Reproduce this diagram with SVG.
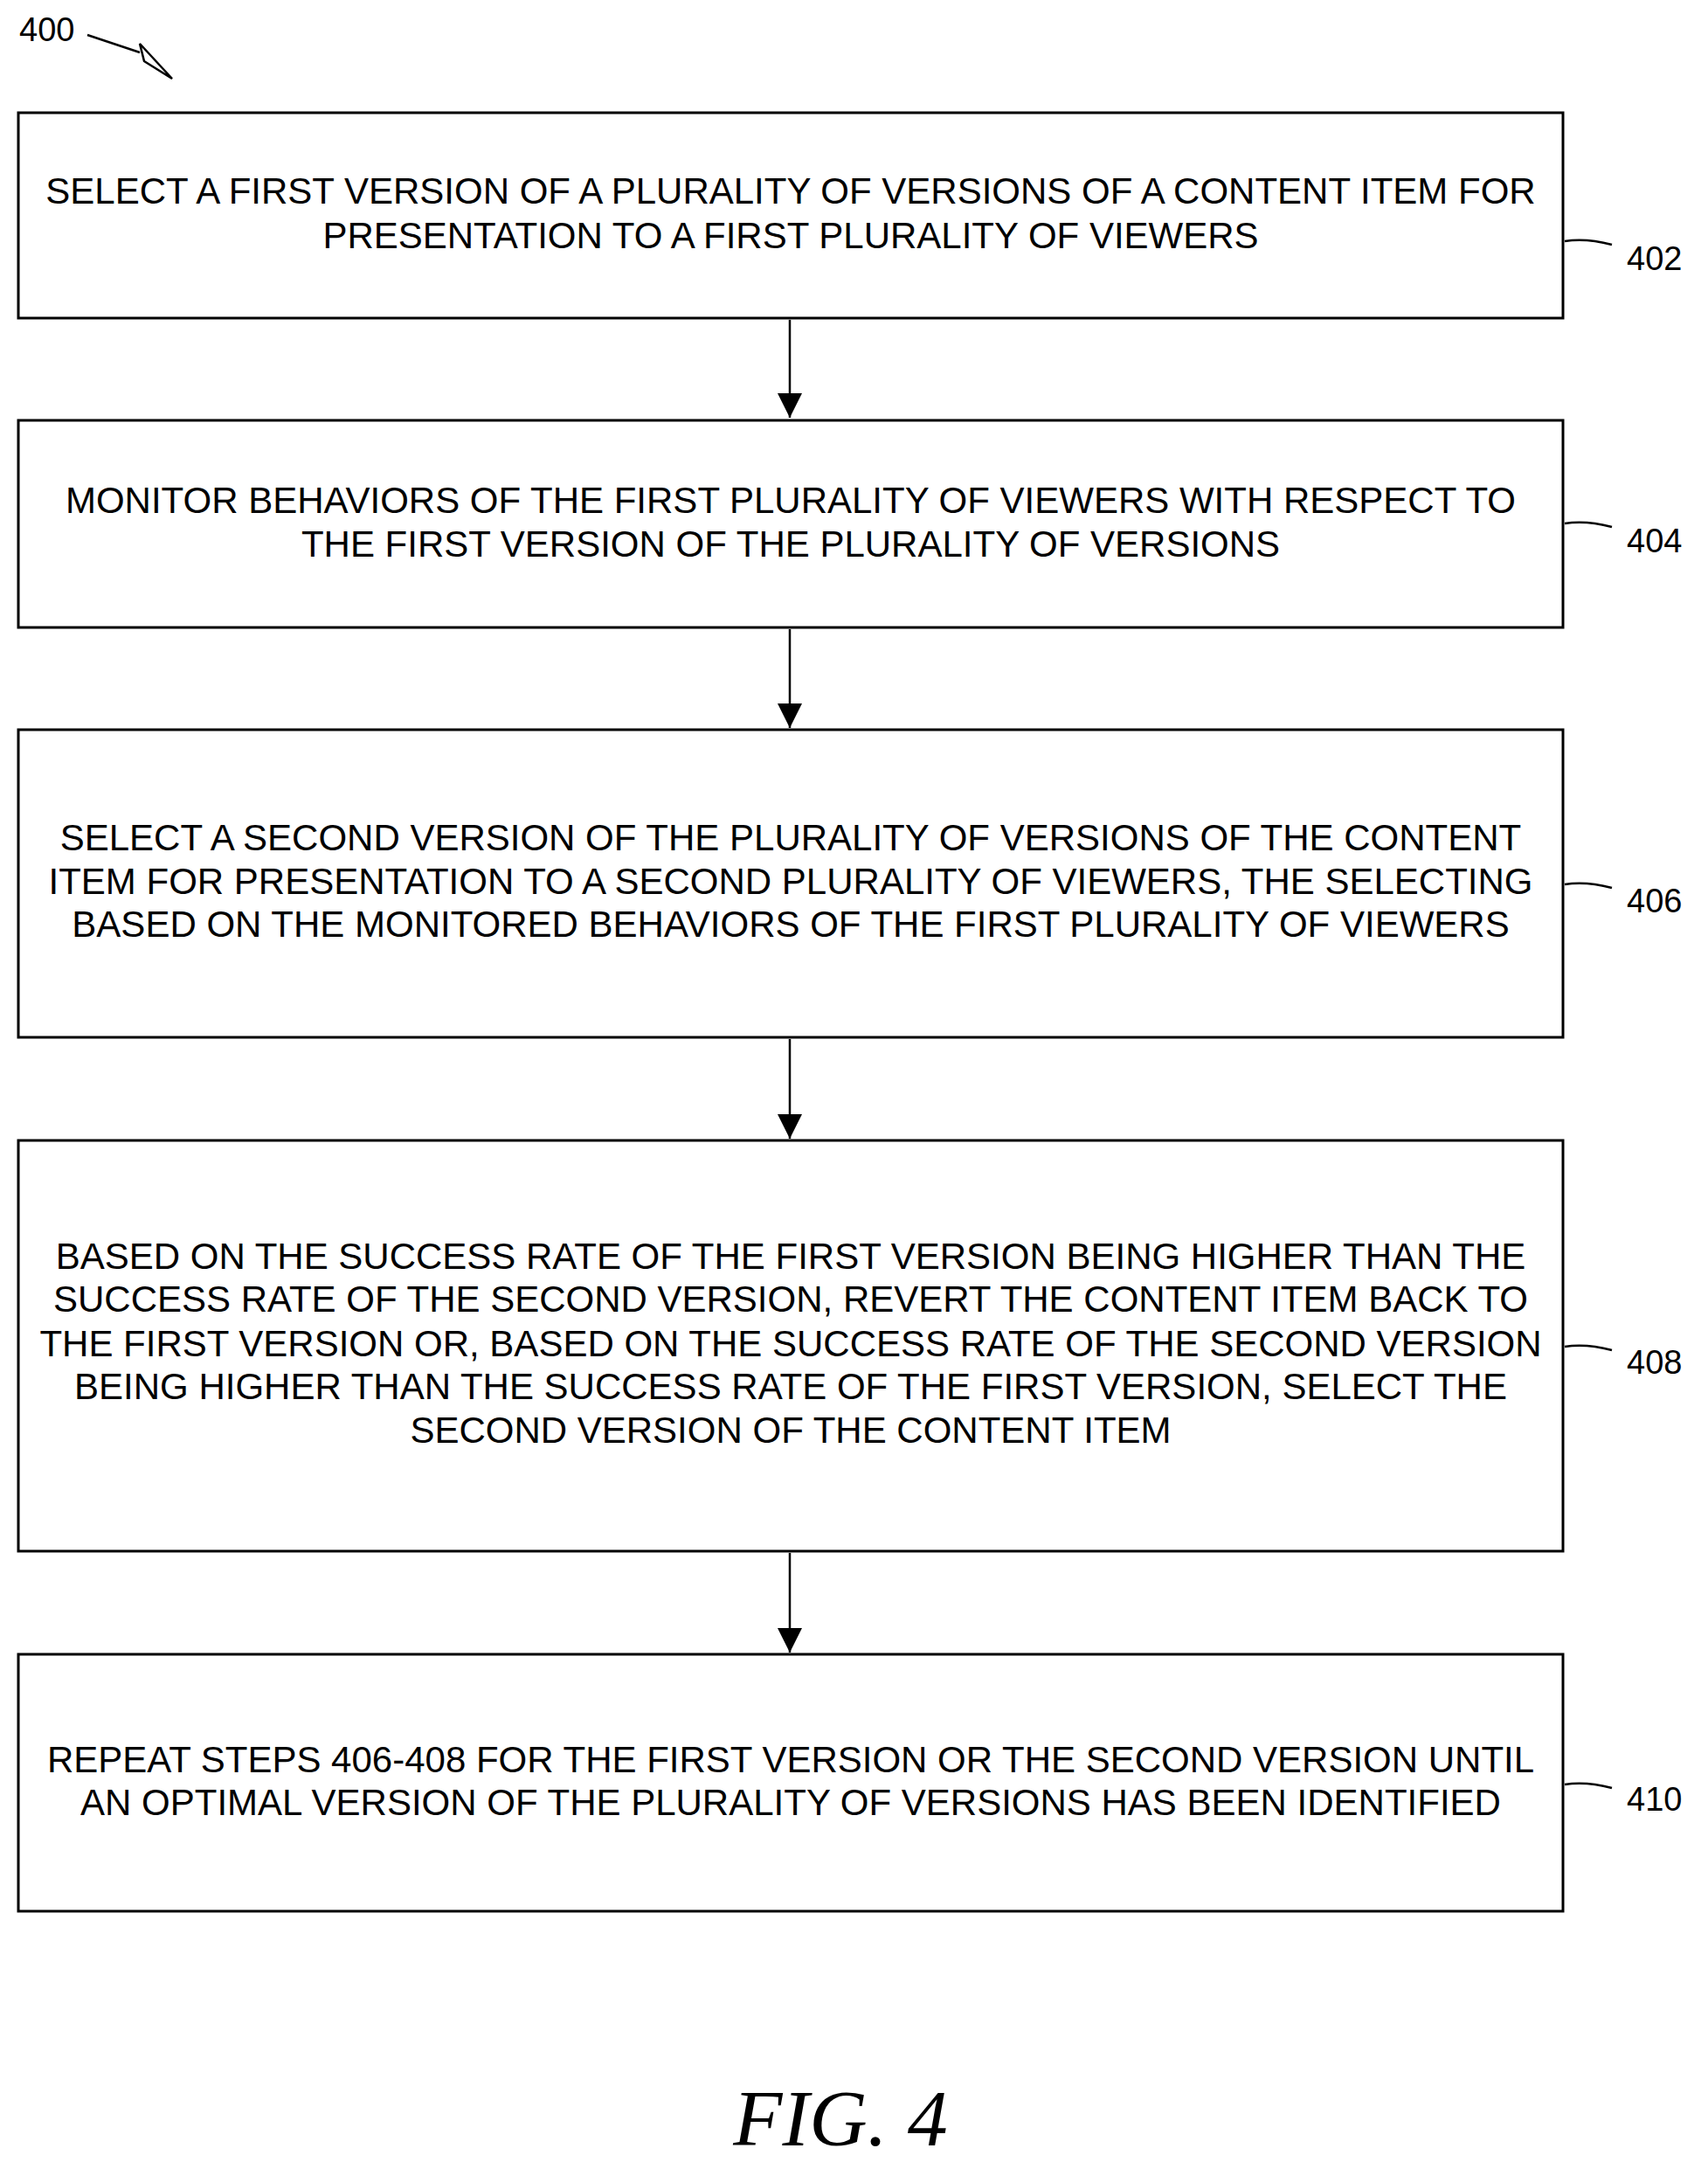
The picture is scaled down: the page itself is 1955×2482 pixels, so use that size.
<svg xmlns="http://www.w3.org/2000/svg" width="1955" height="2482" viewBox="0 0 1955 2482">
<style>
.b{fill:#fff;stroke:#000;stroke-width:3}
.t{font-family:"Liberation Sans",Arial,sans-serif;font-size:42px;text-anchor:middle;fill:#000}
.l{font-family:"Liberation Sans",Arial,sans-serif;font-size:38px;fill:#000}
.c{fill:none;stroke:#000;stroke-width:2.5}
</style>
<defs>
<marker id="m" markerWidth="30" markerHeight="30" refX="28" refY="14" orient="auto" markerUnits="userSpaceOnUse"><path d="M0,0 L28,14 L0,28 Z" fill="#000"/></marker></defs>
<rect width="1955" height="2482" fill="#fff"/>
<g id="connectors">
<path class="c" d="M904,366 V478" marker-end="url(#m)"/>
<path class="c" d="M904,720 V833" marker-end="url(#m)"/>
<path class="c" d="M904,1189 V1303" marker-end="url(#m)"/>
<path class="c" d="M904,1777 V1891" marker-end="url(#m)"/>
<path class="c" d="M1791,276 Q1815,272 1845,280"/>
<path class="c" d="M1791,599 Q1815,595 1845,603"/>
<path class="c" d="M1791,1012 Q1815,1008 1845,1016"/>
<path class="c" d="M1791,1541 Q1815,1537 1845,1545"/>
<path class="c" d="M1791,2042 Q1815,2038 1845,2046"/>
<path class="c" d="M100,40 Q130,50 160,60"/>
<path d="M160,50 L197,90 L165,70 Z" fill="none" stroke="#000" stroke-width="2.5"/>
</g>
<text class="l" x="22" y="47">400</text>
<g id="n402"><rect class="b" x="21" y="129" width="1768" height="235"/>
<text class="t" x="905" y="233">SELECT A FIRST VERSION OF A PLURALITY OF VERSIONS OF A CONTENT ITEM FOR</text>
<text class="t" x="905" y="284">PRESENTATION TO A FIRST PLURALITY OF VIEWERS</text>
<text class="l" x="1862" y="309">402</text></g>
<g id="n404"><rect class="b" x="21" y="481" width="1768" height="237"/>
<text class="t" x="905" y="587">MONITOR BEHAVIORS OF THE FIRST PLURALITY OF VIEWERS WITH RESPECT TO</text>
<text class="t" x="905" y="637">THE FIRST VERSION OF THE PLURALITY OF VERSIONS</text>
<text class="l" x="1862" y="632">404</text></g>
<g id="n406"><rect class="b" x="21" y="835" width="1768" height="352"/>
<text class="t" x="905" y="973">SELECT A SECOND VERSION OF THE PLURALITY OF VERSIONS OF THE CONTENT</text>
<text class="t" x="905" y="1023">ITEM FOR PRESENTATION TO A SECOND PLURALITY OF VIEWERS, THE SELECTING</text>
<text class="t" x="905" y="1072">BASED ON THE MONITORED BEHAVIORS OF THE FIRST PLURALITY OF VIEWERS</text>
<text class="l" x="1862" y="1044">406</text></g>
<g id="n408"><rect class="b" x="21" y="1305" width="1768" height="470"/>
<text class="t" x="905" y="1452">BASED ON THE SUCCESS RATE OF THE FIRST VERSION BEING HIGHER THAN THE</text>
<text class="t" x="905" y="1501">SUCCESS RATE OF THE SECOND VERSION, REVERT THE CONTENT ITEM BACK TO</text>
<text class="t" x="905" y="1552">THE FIRST VERSION OR, BASED ON THE SUCCESS RATE OF THE SECOND VERSION</text>
<text class="t" x="905" y="1601">BEING HIGHER THAN THE SUCCESS RATE OF THE FIRST VERSION, SELECT THE</text>
<text class="t" x="905" y="1651">SECOND VERSION OF THE CONTENT ITEM</text>
<text class="l" x="1862" y="1572">408</text></g>
<g id="n410"><rect class="b" x="21" y="1893" width="1768" height="294"/>
<text class="t" x="905" y="2028">REPEAT STEPS 406-408 FOR THE FIRST VERSION OR THE SECOND VERSION UNTIL</text>
<text class="t" x="905" y="2077">AN OPTIMAL VERSION OF THE PLURALITY OF VERSIONS HAS BEEN IDENTIFIED</text>
<text class="l" x="1862" y="2072">410</text></g>
<text x="962" y="2455" font-family="Liberation Serif,serif" font-style="italic" font-size="92" text-anchor="middle">FIG. 4</text>
</svg>
